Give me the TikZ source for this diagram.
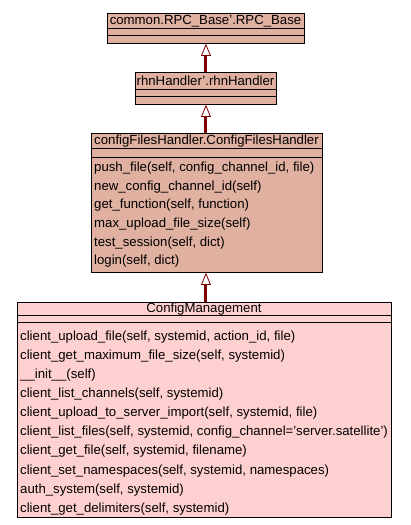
\documentclass[tikz,border=0pt]{standalone}
\usepackage{fontspec}
\setmainfont{Liberation Sans}
\usetikzlibrary{arrows.meta}
\definecolor{basefill}{RGB}{224,176,160}
\definecolor{mainfill}{RGB}{255,208,208}
\definecolor{inheritline}{RGB}{128,0,0}
\tikzset{
  classbox/.style={draw=black, line width=0.9pt, inner sep=0pt, anchor=north west},
  divider/.style={draw=black, line width=0.9pt},
  title/.style={inner sep=0pt, anchor=base, font=\fontsize{13.2}{15}\selectfont},
  member/.style={inner sep=0pt, anchor=base west, font=\fontsize{13.2}{15}\selectfont},
  inherit/.style={draw=inheritline, line width=3pt,
    -{Triangle[length=12pt, width=10pt, line width=0.8pt, fill=white]}},
}
\begin{document}
\begin{tikzpicture}[x=1pt, y=-1pt]
\useasboundingbox[fill=white] (0,0) rectangle (411,525);

% common.RPC_Base'.RPC_Base
\node[classbox, fill=basefill, minimum width=197pt, minimum height=30pt] (rpc) at (107,13) {};
\draw[divider] (107,28) -- (304,28);
\draw[divider] (107,35.5) -- (304,35.5);
\node[title] (rpctitle) at (205.5,24.5) {common.RPC\_Base'.RPC\_Base};

% rhnHandler'.rhnHandler
\node[classbox, fill=basefill, minimum width=141pt, minimum height=32pt] (rhn) at (135,72) {};
\draw[divider] (135,89) -- (276,89);
\draw[divider] (135,96.5) -- (276,96.5);
\node[title] (rhntitle) at (205.5,85) {rhnHandler'.rhnHandler};

% configFilesHandler.ConfigFilesHandler
\node[classbox, fill=basefill, minimum width=231pt, minimum height=139pt] (cfh) at (91,133) {};
\draw[divider] (91,148) -- (322,148);
\draw[divider] (91,157) -- (322,157);
\node[title] (cfhtitle) at (206.5,144.5) {configFilesHandler.ConfigFilesHandler};
\node[member] (cfh1) at (94,171.5) {push\_file(self, config\_channel\_id, file)};
\node[member] (cfh2) at (94,190.2) {new\_config\_channel\_id(self)};
\node[member] (cfh3) at (94,208.8) {get\_function(self, function)};
\node[member] (cfh4) at (94,227.5) {max\_upload\_file\_size(self)};
\node[member] (cfh5) at (94,246.2) {test\_session(self, dict)};
\node[member] (cfh6) at (94,264.8) {login(self, dict)};

% ConfigManagement
\node[classbox, fill=mainfill, minimum width=374pt, minimum height=215pt] (cm) at (17,302) {};
\draw[divider] (17,315) -- (391,315);
\draw[divider] (17,322.5) -- (391,322.5);
\node[title] (cmtitle) at (204,312.5) {ConfigManagement};
\node[member] (cm1) at (20,340.5) {client\_upload\_file(self, systemid, action\_id, file)};
\node[member] (cm2) at (20,359.6) {client\_get\_maximum\_file\_size(self, systemid)};
\node[member] (cm3) at (20,378.6) {\_\_init\_\_(self)};
\node[member] (cm4) at (20,397.7) {client\_list\_channels(self, systemid)};
\node[member] (cm5) at (20,416.8) {client\_upload\_to\_server\_import(self, systemid, file)};
\node[member] (cm6) at (20,435.9) {client\_list\_files(self, systemid, config\_channel='server.satellite')};
\node[member] (cm7) at (20,454.9) {client\_get\_file(self, systemid, filename)};
\node[member] (cm8) at (20,474.0) {client\_set\_namespaces(self, systemid, namespaces)};
\node[member] (cm9) at (20,493.1) {auth\_system(self, systemid)};
\node[member] (cm10) at (20,512.1) {client\_get\_delimiters(self, systemid)};

% inheritance arrows
\draw[inherit] (rhn.north -| rpc.south) -- (rpc.south);
\draw[inherit] (cfh.north -| rpc.south) -- (rhn.south -| rpc.south);
\draw[inherit] (cm.north -| rpc.south) -- (cfh.south -| rpc.south);
\end{tikzpicture}
\end{document}
